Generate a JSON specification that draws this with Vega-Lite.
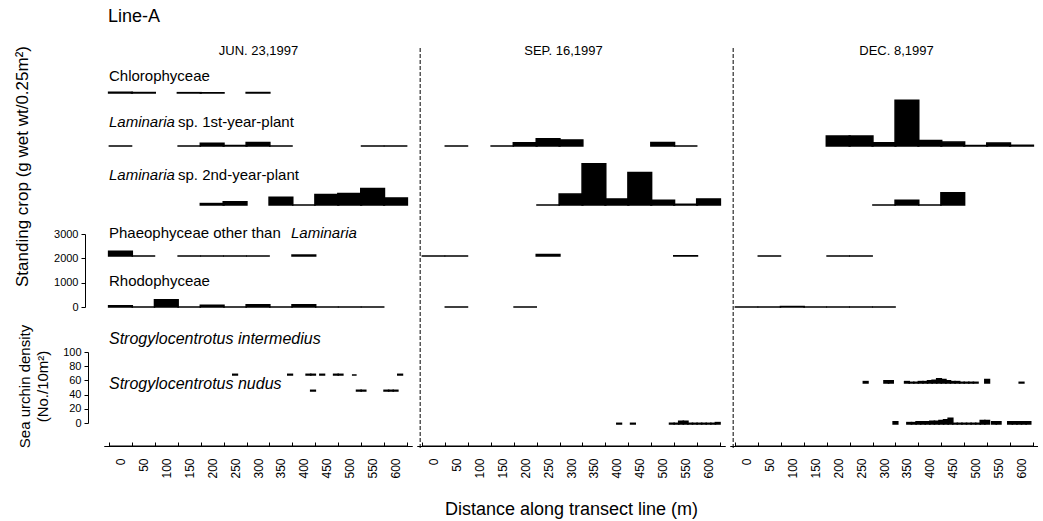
{
  "$schema": "https://vega.github.io/schema/vega-lite/v6.json",
  "padding": {"left": 12, "top": 8, "right": 0, "bottom": 0},
  "title": {"text": "Line-A", "anchor": "start", "fontSize": 18, "offset": 18, "dx": 95},
  "spacing": 5,
  "bounds": "flush",
  "config": {
    "font": "Liberation Sans",
    "view": {"stroke": null},
    "axis": {"grid": false, "domainColor": "black", "domainWidth": 1, "tickColor": "black", "labelColor": "black", "titleColor": "black", "titleFontWeight": "normal", "labelFont": "Liberation Sans", "titleFont": "Liberation Sans"},
    "title": {"fontWeight": "normal", "color": "black", "font": "Liberation Sans", "fontSize": 13},
    "text": {"font": "Liberation Sans", "color": "black", "fontSize": 15}
  },
  "datasets": {
    "algae": [
      {"date": "JUN", "taxon": "Chlorophyceae", "d": 0, "v": 30},
      {"date": "JUN", "taxon": "Chlorophyceae", "d": 50, "v": 20},
      {"date": "JUN", "taxon": "Chlorophyceae", "d": 150, "v": 15},
      {"date": "JUN", "taxon": "Chlorophyceae", "d": 200, "v": 10},
      {"date": "JUN", "taxon": "Chlorophyceae", "d": 300, "v": 20},
      {"date": "JUN", "taxon": "Laminaria 1st", "d": 0, "v": 0},
      {"date": "JUN", "taxon": "Laminaria 1st", "d": 150, "v": 0},
      {"date": "JUN", "taxon": "Laminaria 1st", "d": 200, "v": 110},
      {"date": "JUN", "taxon": "Laminaria 1st", "d": 250, "v": 20},
      {"date": "JUN", "taxon": "Laminaria 1st", "d": 300, "v": 140},
      {"date": "JUN", "taxon": "Laminaria 1st", "d": 350, "v": 0},
      {"date": "JUN", "taxon": "Laminaria 1st", "d": 550, "v": 0},
      {"date": "JUN", "taxon": "Laminaria 1st", "d": 600, "v": 0},
      {"date": "JUN", "taxon": "Laminaria 2nd", "d": 200, "v": 60},
      {"date": "JUN", "taxon": "Laminaria 2nd", "d": 250, "v": 130},
      {"date": "JUN", "taxon": "Laminaria 2nd", "d": 350, "v": 320},
      {"date": "JUN", "taxon": "Laminaria 2nd", "d": 400, "v": 0},
      {"date": "JUN", "taxon": "Laminaria 2nd", "d": 450, "v": 430},
      {"date": "JUN", "taxon": "Laminaria 2nd", "d": 500, "v": 470},
      {"date": "JUN", "taxon": "Laminaria 2nd", "d": 550, "v": 680},
      {"date": "JUN", "taxon": "Laminaria 2nd", "d": 600, "v": 290},
      {"date": "JUN", "taxon": "Phaeophyceae", "d": 0, "v": 200},
      {"date": "JUN", "taxon": "Phaeophyceae", "d": 50, "v": 0},
      {"date": "JUN", "taxon": "Phaeophyceae", "d": 150, "v": 0},
      {"date": "JUN", "taxon": "Phaeophyceae", "d": 200, "v": 0},
      {"date": "JUN", "taxon": "Phaeophyceae", "d": 250, "v": 0},
      {"date": "JUN", "taxon": "Phaeophyceae", "d": 300, "v": 0},
      {"date": "JUN", "taxon": "Phaeophyceae", "d": 400, "v": 40},
      {"date": "JUN", "taxon": "Rhodophyceae", "d": 0, "v": 50},
      {"date": "JUN", "taxon": "Rhodophyceae", "d": 50, "v": 0},
      {"date": "JUN", "taxon": "Rhodophyceae", "d": 100, "v": 300},
      {"date": "JUN", "taxon": "Rhodophyceae", "d": 150, "v": 0},
      {"date": "JUN", "taxon": "Rhodophyceae", "d": 200, "v": 70},
      {"date": "JUN", "taxon": "Rhodophyceae", "d": 250, "v": 0},
      {"date": "JUN", "taxon": "Rhodophyceae", "d": 300, "v": 90},
      {"date": "JUN", "taxon": "Rhodophyceae", "d": 350, "v": 0},
      {"date": "JUN", "taxon": "Rhodophyceae", "d": 400, "v": 90},
      {"date": "JUN", "taxon": "Rhodophyceae", "d": 450, "v": 0},
      {"date": "JUN", "taxon": "Rhodophyceae", "d": 500, "v": 0},
      {"date": "JUN", "taxon": "Rhodophyceae", "d": 550, "v": 0},
      {"date": "SEP", "taxon": "Laminaria 1st", "d": 50, "v": 0},
      {"date": "SEP", "taxon": "Laminaria 1st", "d": 150, "v": 0},
      {"date": "SEP", "taxon": "Laminaria 1st", "d": 200, "v": 130},
      {"date": "SEP", "taxon": "Laminaria 1st", "d": 250, "v": 300},
      {"date": "SEP", "taxon": "Laminaria 1st", "d": 300, "v": 250},
      {"date": "SEP", "taxon": "Laminaria 1st", "d": 500, "v": 140},
      {"date": "SEP", "taxon": "Laminaria 1st", "d": 550, "v": 0},
      {"date": "SEP", "taxon": "Laminaria 2nd", "d": 250, "v": 0},
      {"date": "SEP", "taxon": "Laminaria 2nd", "d": 300, "v": 450},
      {"date": "SEP", "taxon": "Laminaria 2nd", "d": 350, "v": 1700},
      {"date": "SEP", "taxon": "Laminaria 2nd", "d": 400, "v": 250},
      {"date": "SEP", "taxon": "Laminaria 2nd", "d": 450, "v": 1340},
      {"date": "SEP", "taxon": "Laminaria 2nd", "d": 500, "v": 200},
      {"date": "SEP", "taxon": "Laminaria 2nd", "d": 550, "v": 30},
      {"date": "SEP", "taxon": "Laminaria 2nd", "d": 600, "v": 250},
      {"date": "SEP", "taxon": "Phaeophyceae", "d": 0, "v": 0},
      {"date": "SEP", "taxon": "Phaeophyceae", "d": 50, "v": 0},
      {"date": "SEP", "taxon": "Phaeophyceae", "d": 250, "v": 60},
      {"date": "SEP", "taxon": "Phaeophyceae", "d": 550, "v": 10},
      {"date": "SEP", "taxon": "Rhodophyceae", "d": 50, "v": 0},
      {"date": "SEP", "taxon": "Rhodophyceae", "d": 200, "v": 0},
      {"date": "DEC", "taxon": "Laminaria 1st", "d": 200, "v": 410},
      {"date": "DEC", "taxon": "Laminaria 1st", "d": 250, "v": 410},
      {"date": "DEC", "taxon": "Laminaria 1st", "d": 300, "v": 135},
      {"date": "DEC", "taxon": "Laminaria 1st", "d": 350, "v": 1880},
      {"date": "DEC", "taxon": "Laminaria 1st", "d": 400, "v": 230},
      {"date": "DEC", "taxon": "Laminaria 1st", "d": 450, "v": 160},
      {"date": "DEC", "taxon": "Laminaria 1st", "d": 500, "v": 20},
      {"date": "DEC", "taxon": "Laminaria 1st", "d": 550, "v": 120},
      {"date": "DEC", "taxon": "Laminaria 1st", "d": 600, "v": 30},
      {"date": "DEC", "taxon": "Laminaria 2nd", "d": 300, "v": 0},
      {"date": "DEC", "taxon": "Laminaria 2nd", "d": 350, "v": 200},
      {"date": "DEC", "taxon": "Laminaria 2nd", "d": 400, "v": 0},
      {"date": "DEC", "taxon": "Laminaria 2nd", "d": 450, "v": 500},
      {"date": "DEC", "taxon": "Phaeophyceae", "d": 50, "v": 0},
      {"date": "DEC", "taxon": "Phaeophyceae", "d": 200, "v": 0},
      {"date": "DEC", "taxon": "Phaeophyceae", "d": 250, "v": 0},
      {"date": "DEC", "taxon": "Rhodophyceae", "d": 0, "v": 0},
      {"date": "DEC", "taxon": "Rhodophyceae", "d": 50, "v": 0},
      {"date": "DEC", "taxon": "Rhodophyceae", "d": 100, "v": 20},
      {"date": "DEC", "taxon": "Rhodophyceae", "d": 150, "v": 0},
      {"date": "DEC", "taxon": "Rhodophyceae", "d": 200, "v": 0},
      {"date": "DEC", "taxon": "Rhodophyceae", "d": 250, "v": 0},
      {"date": "DEC", "taxon": "Rhodophyceae", "d": 300, "v": 0}
    ],
    "urchin": [
      {"date": "JUN", "taxon": "S. intermedius", "d": 250, "v": 1},
      {"date": "JUN", "taxon": "S. intermedius", "d": 370, "v": 1},
      {"date": "JUN", "taxon": "S. intermedius", "d": 410, "v": 1},
      {"date": "JUN", "taxon": "S. intermedius", "d": 420, "v": 1},
      {"date": "JUN", "taxon": "S. intermedius", "d": 440, "v": 1},
      {"date": "JUN", "taxon": "S. intermedius", "d": 470, "v": 1},
      {"date": "JUN", "taxon": "S. intermedius", "d": 480, "v": 1},
      {"date": "JUN", "taxon": "S. intermedius", "d": 510, "v": 0},
      {"date": "JUN", "taxon": "S. intermedius", "d": 610, "v": 1},
      {"date": "JUN", "taxon": "S. nudus", "d": 420, "v": 1},
      {"date": "JUN", "taxon": "S. nudus", "d": 520, "v": 1},
      {"date": "JUN", "taxon": "S. nudus", "d": 530, "v": 1},
      {"date": "JUN", "taxon": "S. nudus", "d": 580, "v": 1},
      {"date": "JUN", "taxon": "S. nudus", "d": 590, "v": 1},
      {"date": "JUN", "taxon": "S. nudus", "d": 600, "v": 1},
      {"date": "SEP", "taxon": "S. nudus", "d": 405, "v": 1},
      {"date": "SEP", "taxon": "S. nudus", "d": 435, "v": 1},
      {"date": "SEP", "taxon": "S. nudus", "d": 520, "v": 1},
      {"date": "SEP", "taxon": "S. nudus", "d": 530, "v": 1},
      {"date": "SEP", "taxon": "S. nudus", "d": 540, "v": 4},
      {"date": "SEP", "taxon": "S. nudus", "d": 550, "v": 4},
      {"date": "SEP", "taxon": "S. nudus", "d": 560, "v": 1},
      {"date": "SEP", "taxon": "S. nudus", "d": 570, "v": 1},
      {"date": "SEP", "taxon": "S. nudus", "d": 580, "v": 1},
      {"date": "SEP", "taxon": "S. nudus", "d": 590, "v": 1},
      {"date": "SEP", "taxon": "S. nudus", "d": 600, "v": 1},
      {"date": "SEP", "taxon": "S. nudus", "d": 610, "v": 1},
      {"date": "SEP", "taxon": "S. nudus", "d": 620, "v": 2},
      {"date": "DEC", "taxon": "S. intermedius", "d": 260, "v": 2},
      {"date": "DEC", "taxon": "S. intermedius", "d": 305, "v": 3},
      {"date": "DEC", "taxon": "S. intermedius", "d": 315, "v": 3},
      {"date": "DEC", "taxon": "S. intermedius", "d": 350, "v": 2},
      {"date": "DEC", "taxon": "S. intermedius", "d": 360, "v": 1},
      {"date": "DEC", "taxon": "S. intermedius", "d": 370, "v": 1},
      {"date": "DEC", "taxon": "S. intermedius", "d": 380, "v": 2},
      {"date": "DEC", "taxon": "S. intermedius", "d": 390, "v": 2},
      {"date": "DEC", "taxon": "S. intermedius", "d": 400, "v": 3},
      {"date": "DEC", "taxon": "S. intermedius", "d": 410, "v": 4},
      {"date": "DEC", "taxon": "S. intermedius", "d": 420, "v": 6},
      {"date": "DEC", "taxon": "S. intermedius", "d": 430, "v": 5},
      {"date": "DEC", "taxon": "S. intermedius", "d": 440, "v": 3},
      {"date": "DEC", "taxon": "S. intermedius", "d": 450, "v": 2},
      {"date": "DEC", "taxon": "S. intermedius", "d": 460, "v": 2},
      {"date": "DEC", "taxon": "S. intermedius", "d": 470, "v": 1},
      {"date": "DEC", "taxon": "S. intermedius", "d": 480, "v": 1},
      {"date": "DEC", "taxon": "S. intermedius", "d": 490, "v": 1},
      {"date": "DEC", "taxon": "S. intermedius", "d": 500, "v": 1},
      {"date": "DEC", "taxon": "S. intermedius", "d": 525, "v": 5},
      {"date": "DEC", "taxon": "S. intermedius", "d": 600, "v": 1},
      {"date": "DEC", "taxon": "S. nudus", "d": 325, "v": 3},
      {"date": "DEC", "taxon": "S. nudus", "d": 355, "v": 2},
      {"date": "DEC", "taxon": "S. nudus", "d": 365, "v": 2},
      {"date": "DEC", "taxon": "S. nudus", "d": 375, "v": 3},
      {"date": "DEC", "taxon": "S. nudus", "d": 385, "v": 3},
      {"date": "DEC", "taxon": "S. nudus", "d": 395, "v": 3},
      {"date": "DEC", "taxon": "S. nudus", "d": 405, "v": 4},
      {"date": "DEC", "taxon": "S. nudus", "d": 415, "v": 4},
      {"date": "DEC", "taxon": "S. nudus", "d": 425, "v": 5},
      {"date": "DEC", "taxon": "S. nudus", "d": 435, "v": 6},
      {"date": "DEC", "taxon": "S. nudus", "d": 445, "v": 8},
      {"date": "DEC", "taxon": "S. nudus", "d": 455, "v": 1},
      {"date": "DEC", "taxon": "S. nudus", "d": 465, "v": 1},
      {"date": "DEC", "taxon": "S. nudus", "d": 475, "v": 1},
      {"date": "DEC", "taxon": "S. nudus", "d": 485, "v": 1},
      {"date": "DEC", "taxon": "S. nudus", "d": 495, "v": 1},
      {"date": "DEC", "taxon": "S. nudus", "d": 505, "v": 1},
      {"date": "DEC", "taxon": "S. nudus", "d": 515, "v": 5},
      {"date": "DEC", "taxon": "S. nudus", "d": 525, "v": 5},
      {"date": "DEC", "taxon": "S. nudus", "d": 540, "v": 3},
      {"date": "DEC", "taxon": "S. nudus", "d": 550, "v": 3},
      {"date": "DEC", "taxon": "S. nudus", "d": 575, "v": 3},
      {"date": "DEC", "taxon": "S. nudus", "d": 585, "v": 3},
      {"date": "DEC", "taxon": "S. nudus", "d": 595, "v": 3},
      {"date": "DEC", "taxon": "S. nudus", "d": 605, "v": 3},
      {"date": "DEC", "taxon": "S. nudus", "d": 615, "v": 3}
    ]
  },
  "hconcat": [
    {
      "width": 308, "height": 383,
      "resolve": {"scale": {"y": "independent"}, "axis": {"x": "independent"}},
      "layer": [
        {"layer": [
          {"data": {"name": "algae"}, "transform": [{"filter": "datum.date === 'JUN' && datum.taxon === 'Chlorophyceae'"}],
           "mark": {"type": "bar", "orient": "vertical", "width": 23.7, "color": "black", "stroke": "black", "strokeWidth": 1.5},
           "encoding": {"x": {"field": "d", "type": "quantitative", "scale": {"domain": [-25, 625], "nice": false, "zero": false}, "axis": null},
                        "y": {"field": "v", "type": "quantitative", "scale": {"domain": [0, 3000], "range": [30, -43], "nice": false, "zero": false}, "axis": null},
                        "y2": {"datum": 0}}},
          {"data": {"values": [{"label": "Chlorophyceae"}]},
           "mark": {"type": "text", "align": "left", "baseline": "middle", "dy": -17},
           "encoding": {"x": {"datum": -25, "type": "quantitative", "axis": null}, "y": {"datum": 0, "type": "quantitative", "axis": null}, "text": {"field": "label"}}}
        ]},
        {"layer": [
          {"data": {"name": "algae"}, "transform": [{"filter": "datum.date === 'JUN' && datum.taxon === 'Laminaria 1st'"}],
           "mark": {"type": "bar", "orient": "vertical", "width": 23.7, "color": "black", "stroke": "black", "strokeWidth": 1.5},
           "encoding": {"x": {"field": "d", "type": "quantitative", "scale": {"domain": [-25, 625], "nice": false, "zero": false}, "axis": null},
                        "y": {"field": "v", "type": "quantitative", "scale": {"domain": [0, 3000], "range": [83, 10], "nice": false, "zero": false}, "axis": null},
                        "y2": {"datum": 0}}},
          {"data": {"values": [{"label": "Laminaria"}]},
           "mark": {"type": "text", "align": "left", "baseline": "middle", "dy": -24, "fontStyle": "italic"},
           "encoding": {"x": {"datum": -25, "type": "quantitative", "axis": null}, "y": {"datum": 0, "type": "quantitative", "axis": null}, "text": {"field": "label"}}},
          {"data": {"values": [{"label": "sp. 1st-year-plant"}]},
           "mark": {"type": "text", "align": "left", "baseline": "middle", "dy": -24, "dx": 69},
           "encoding": {"x": {"datum": -25, "type": "quantitative", "axis": null}, "y": {"datum": 0, "type": "quantitative", "axis": null}, "text": {"field": "label"}}}
        ]},
        {"layer": [
          {"data": {"name": "algae"}, "transform": [{"filter": "datum.date === 'JUN' && datum.taxon === 'Laminaria 2nd'"}],
           "mark": {"type": "bar", "orient": "vertical", "width": 23.7, "color": "black", "stroke": "black", "strokeWidth": 1.5},
           "encoding": {"x": {"field": "d", "type": "quantitative", "scale": {"domain": [-25, 625], "nice": false, "zero": false}, "axis": null},
                        "y": {"field": "v", "type": "quantitative", "scale": {"domain": [0, 3000], "range": [142, 69], "nice": false, "zero": false}, "axis": null},
                        "y2": {"datum": 0}}},
          {"data": {"values": [{"label": "Laminaria"}]},
           "mark": {"type": "text", "align": "left", "baseline": "middle", "dy": -30, "fontStyle": "italic"},
           "encoding": {"x": {"datum": -25, "type": "quantitative", "axis": null}, "y": {"datum": 0, "type": "quantitative", "axis": null}, "text": {"field": "label"}}},
          {"data": {"values": [{"label": "sp. 2nd-year-plant"}]},
           "mark": {"type": "text", "align": "left", "baseline": "middle", "dy": -30, "dx": 69},
           "encoding": {"x": {"datum": -25, "type": "quantitative", "axis": null}, "y": {"datum": 0, "type": "quantitative", "axis": null}, "text": {"field": "label"}}}
        ]},
        {"layer": [
          {"data": {"name": "algae"}, "transform": [{"filter": "datum.date === 'JUN' && datum.taxon === 'Phaeophyceae'"}],
           "mark": {"type": "bar", "orient": "vertical", "width": 23.7, "color": "black", "stroke": "black", "strokeWidth": 1.5},
           "encoding": {"x": {"field": "d", "type": "quantitative", "scale": {"domain": [-25, 625], "nice": false, "zero": false}, "axis": null},
                        "y": {"field": "v", "type": "quantitative", "scale": {"domain": [0, 3000], "range": [193, 120], "nice": false, "zero": false}, "axis": null},
                        "y2": {"datum": 0}}},
          {"data": {"values": [{"label": "Phaeophyceae other than"}]},
           "mark": {"type": "text", "align": "left", "baseline": "middle", "dy": -23},
           "encoding": {"x": {"datum": -25, "type": "quantitative", "axis": null}, "y": {"datum": 0, "type": "quantitative", "axis": null}, "text": {"field": "label"}}},
          {"data": {"values": [{"label": "Laminaria"}]},
           "mark": {"type": "text", "align": "left", "baseline": "middle", "dy": -23, "dx": 182, "fontStyle": "italic"},
           "encoding": {"x": {"datum": -25, "type": "quantitative", "axis": null}, "y": {"datum": 0, "type": "quantitative", "axis": null}, "text": {"field": "label"}}}
        ]},
        {"layer": [
          {"data": {"name": "algae"}, "transform": [{"filter": "datum.date === 'JUN' && datum.taxon === 'Rhodophyceae'"}],
           "mark": {"type": "bar", "orient": "vertical", "width": 23.7, "color": "black", "stroke": "black", "strokeWidth": 1.5},
           "encoding": {"x": {"field": "d", "type": "quantitative", "scale": {"domain": [-25, 625], "nice": false, "zero": false}, "axis": null},
                        "y": {"field": "v", "type": "quantitative", "scale": {"domain": [0, 3000], "range": [244, 171], "nice": false, "zero": false}, "axis": null},
                        "y2": {"datum": 0}}},
          {"data": {"values": [{"label": "Rhodophyceae"}]},
           "mark": {"type": "text", "align": "left", "baseline": "middle", "dy": -26},
           "encoding": {"x": {"datum": -25, "type": "quantitative", "axis": null}, "y": {"datum": 0, "type": "quantitative", "axis": null}, "text": {"field": "label"}}}
        ]},
        {"layer": [
          {"data": {"name": "urchin"}, "transform": [{"filter": "datum.date === 'JUN' && datum.taxon === 'S. intermedius'"}],
           "mark": {"type": "bar", "orient": "vertical", "width": 4.7, "color": "black", "stroke": "black", "strokeWidth": 1.5},
           "encoding": {"x": {"field": "d", "type": "quantitative", "scale": {"domain": [-25, 625], "nice": false, "zero": false}, "axis": null},
                        "y": {"field": "v", "type": "quantitative", "scale": {"domain": [0, 100], "range": [312, 241], "nice": false, "zero": false}, "axis": null},
                        "y2": {"datum": 0}}},
          {"data": {"values": [{"label": "Strogylocentrotus intermedius"}]},
           "mark": {"type": "text", "align": "left", "baseline": "middle", "dy": -36, "fontStyle": "italic", "fontSize": 16},
           "encoding": {"x": {"datum": -25, "type": "quantitative", "axis": null}, "y": {"datum": 0, "type": "quantitative", "axis": null}, "text": {"field": "label"}}}
        ]},
        {"layer": [
          {"data": {"name": "urchin"}, "transform": [{"filter": "datum.date === 'JUN' && datum.taxon === 'S. nudus'"}],
           "mark": {"type": "bar", "orient": "vertical", "width": 4.7, "color": "black", "stroke": "black", "strokeWidth": 1.5},
           "encoding": {"x": {"field": "d", "type": "quantitative", "scale": {"domain": [-25, 625], "nice": false, "zero": false}, "axis": null},
                        "y": {"field": "v", "type": "quantitative", "scale": {"domain": [0, 100], "range": [328, 257], "nice": false, "zero": false}, "axis": null},
                        "y2": {"datum": 0}}},
          {"data": {"values": [{"label": "Strogylocentrotus nudus"}]},
           "mark": {"type": "text", "align": "left", "baseline": "middle", "dy": -7, "fontStyle": "italic", "fontSize": 16},
           "encoding": {"x": {"datum": -25, "type": "quantitative", "axis": null}, "y": {"datum": 0, "type": "quantitative", "axis": null}, "text": {"field": "label"}}}
        ]},
        {"data": {"values": [{"v": 0}, {"v": 3000}]},
         "mark": {"type": "point", "opacity": 0},
         "encoding": {"x": {"datum": 0, "type": "quantitative",
                            "axis": {"orient": "bottom", "values": [-25, 25, 75, 125, 175, 225, 275, 325, 375, 425, 475, 525, 575, 625], "labels": false, "ticks": true, "tickSize": -4, "domain": true, "title": null}},
                      "y": {"field": "v", "type": "quantitative", "scale": {"domain": [0, 3000], "range": [244, 171], "nice": false, "zero": false},
                            "axis": {"orient": "left", "values": [0, 1000, 2000, 3000], "format": "d", "offset": 19, "title": "Standing crop (g wet wt/0.25m²)", "titleFontSize": 17, "titleAngle": 270, "titleBaseline": "middle", "titleX": -63, "titleY": 103, "labelFontSize": 11, "tickSize": 4, "labelPadding": 3}}}},
        {"data": {"values": [{"v": 0}, {"v": 100}]},
         "mark": {"type": "point", "opacity": 0},
         "encoding": {"x": {"datum": 0, "type": "quantitative",
                            "axis": {"orient": "bottom", "values": [0, 50, 100, 150, 200, 250, 300, 350, 400, 450, 500, 550, 600], "labelAngle": 270, "ticks": false, "domain": true, "labelPadding": 12, "labelFontSize": 12, "title": null}},
                      "y": {"field": "v", "type": "quantitative", "scale": {"domain": [0, 100], "range": [360, 289], "nice": false, "zero": false},
                            "axis": {"orient": "left", "values": [0, 20, 40, 60, 80, 100], "offset": 16, "title": ["Sea urchin density", "(No./10m²)"], "titleFontSize": 15, "titleLineHeight": 18, "titleAngle": 270, "titleBaseline": "middle", "titleX": -64, "titleY": 323, "labelFontSize": 11, "tickSize": 4, "labelPadding": 3}}}},
        {"data": {"values": [{}]},
         "mark": {"type": "point", "opacity": 0},
         "encoding": {"x": {"datum": 0, "type": "quantitative",
                            "axis": {"orient": "top", "labels": false, "ticks": false, "domain": false, "title": "JUN. 23,1997", "titleFontSize": 13, "titlePadding": 6}}}},
        {"data": {"values": [{}]},
         "mark": {"type": "rule", "color": "black", "strokeWidth": 1},
         "encoding": {"x": {"datum": -25, "type": "quantitative", "axis": null}, "x2": {"datum": 625},
                      "y": {"datum": 0, "type": "quantitative", "scale": {"domain": [0, 1], "range": [383, 0], "nice": false, "zero": false}, "axis": null}}}
      ]
    },
    {
      "width": 308, "height": 383,
      "resolve": {"scale": {"y": "independent"}, "axis": {"x": "independent"}},
      "layer": [
        {"data": {"name": "algae"}, "transform": [{"filter": "datum.date === 'SEP' && datum.taxon === 'Laminaria 1st'"}],
         "mark": {"type": "bar", "orient": "vertical", "width": 23.7, "color": "black", "stroke": "black", "strokeWidth": 1.5},
         "encoding": {"x": {"field": "d", "type": "quantitative", "scale": {"domain": [-25, 625], "nice": false, "zero": false},
                            "axis": {"orient": "top", "labels": false, "ticks": false, "domain": false, "title": "SEP. 16,1997", "titleFontSize": 13, "titlePadding": 6, "titleX": 146}},
                      "y": {"field": "v", "type": "quantitative", "scale": {"domain": [0, 3000], "range": [83, 10], "nice": false, "zero": false}, "axis": null},
                      "y2": {"datum": 0}}},
        {"data": {"name": "algae"}, "transform": [{"filter": "datum.date === 'SEP' && datum.taxon === 'Laminaria 2nd'"}],
         "mark": {"type": "bar", "orient": "vertical", "width": 23.7, "color": "black", "stroke": "black", "strokeWidth": 1.5},
         "encoding": {"x": {"field": "d", "type": "quantitative", "scale": {"domain": [-25, 625], "nice": false, "zero": false}, "axis": null},
                      "y": {"field": "v", "type": "quantitative", "scale": {"domain": [0, 3000], "range": [142, 69], "nice": false, "zero": false}, "axis": null},
                      "y2": {"datum": 0}}},
        {"data": {"name": "algae"}, "transform": [{"filter": "datum.date === 'SEP' && datum.taxon === 'Phaeophyceae'"}],
         "mark": {"type": "bar", "orient": "vertical", "width": 23.7, "color": "black", "stroke": "black", "strokeWidth": 1.5},
         "encoding": {"x": {"field": "d", "type": "quantitative", "scale": {"domain": [-25, 625], "nice": false, "zero": false},
                            "axis": {"orient": "bottom", "values": [-25, 25, 75, 125, 175, 225, 275, 325, 375, 425, 475, 525, 575, 625], "labels": false, "ticks": true, "tickSize": -4, "domain": true, "title": null}},
                      "y": {"field": "v", "type": "quantitative", "scale": {"domain": [0, 3000], "range": [193, 120], "nice": false, "zero": false}, "axis": null},
                      "y2": {"datum": 0}}},
        {"data": {"name": "algae"}, "transform": [{"filter": "datum.date === 'SEP' && datum.taxon === 'Rhodophyceae'"}],
         "mark": {"type": "bar", "orient": "vertical", "width": 23.7, "color": "black", "stroke": "black", "strokeWidth": 1.5},
         "encoding": {"x": {"field": "d", "type": "quantitative", "scale": {"domain": [-25, 625], "nice": false, "zero": false},
                            "axis": {"orient": "bottom", "values": [0, 50, 100, 150, 200, 250, 300, 350, 400, 450, 500, 550, 600], "labelAngle": 270, "ticks": false, "domain": true, "labelPadding": 12, "labelFontSize": 12, "title": "Distance along transect line (m)", "titleFontSize": 18, "titlePadding": 22}},
                      "y": {"field": "v", "type": "quantitative", "scale": {"domain": [0, 3000], "range": [244, 171], "nice": false, "zero": false}, "axis": null},
                      "y2": {"datum": 0}}},
        {"data": {"name": "urchin"}, "transform": [{"filter": "datum.date === 'SEP' && datum.taxon === 'S. nudus'"}],
         "mark": {"type": "bar", "orient": "vertical", "width": 4.7, "color": "black", "stroke": "black", "strokeWidth": 1.5},
         "encoding": {"x": {"field": "d", "type": "quantitative", "scale": {"domain": [-25, 625], "nice": false, "zero": false}, "axis": null},
                      "y": {"field": "v", "type": "quantitative", "scale": {"domain": [0, 100], "range": [361, 290], "nice": false, "zero": false}, "axis": null},
                      "y2": {"datum": 0}}},
        {"data": {"values": [{}]},
         "mark": {"type": "rule", "strokeDash": [4, 2], "color": "black", "strokeWidth": 1},
         "encoding": {"x": {"datum": -29, "type": "quantitative", "axis": null},
                      "y": {"datum": 0, "type": "quantitative", "scale": {"domain": [0, 1], "range": [385, -16], "nice": false, "zero": false}, "axis": null},
                      "y2": {"datum": 1}}},
        {"data": {"values": [{}]},
         "mark": {"type": "rule", "color": "black", "strokeWidth": 1},
         "encoding": {"x": {"datum": -25, "type": "quantitative", "axis": null}, "x2": {"datum": 625},
                      "y": {"datum": 0, "type": "quantitative", "scale": {"domain": [0, 1], "range": [383, 0], "nice": false, "zero": false}, "axis": null}}}
      ]
    },
    {
      "width": 308, "height": 383,
      "resolve": {"scale": {"y": "independent"}, "axis": {"x": "independent"}},
      "layer": [
        {"data": {"name": "algae"}, "transform": [{"filter": "datum.date === 'DEC' && datum.taxon === 'Laminaria 1st'"}],
         "mark": {"type": "bar", "orient": "vertical", "width": 23.7, "color": "black", "stroke": "black", "strokeWidth": 1.5},
         "encoding": {"x": {"field": "d", "type": "quantitative", "scale": {"domain": [-25, 625], "nice": false, "zero": false},
                            "axis": {"orient": "top", "labels": false, "ticks": false, "domain": false, "title": "DEC. 8,1997", "titleFontSize": 13, "titlePadding": 6, "titleX": 166}},
                      "y": {"field": "v", "type": "quantitative", "scale": {"domain": [0, 3000], "range": [83, 10], "nice": false, "zero": false}, "axis": null},
                      "y2": {"datum": 0}}},
        {"data": {"name": "algae"}, "transform": [{"filter": "datum.date === 'DEC' && datum.taxon === 'Laminaria 2nd'"}],
         "mark": {"type": "bar", "orient": "vertical", "width": 23.7, "color": "black", "stroke": "black", "strokeWidth": 1.5},
         "encoding": {"x": {"field": "d", "type": "quantitative", "scale": {"domain": [-25, 625], "nice": false, "zero": false}, "axis": null},
                      "y": {"field": "v", "type": "quantitative", "scale": {"domain": [0, 3000], "range": [142, 69], "nice": false, "zero": false}, "axis": null},
                      "y2": {"datum": 0}}},
        {"data": {"name": "algae"}, "transform": [{"filter": "datum.date === 'DEC' && datum.taxon === 'Phaeophyceae'"}],
         "mark": {"type": "bar", "orient": "vertical", "width": 23.7, "color": "black", "stroke": "black", "strokeWidth": 1.5},
         "encoding": {"x": {"field": "d", "type": "quantitative", "scale": {"domain": [-25, 625], "nice": false, "zero": false},
                            "axis": {"orient": "bottom", "values": [-25, 25, 75, 125, 175, 225, 275, 325, 375, 425, 475, 525, 575, 625], "labels": false, "ticks": true, "tickSize": -4, "domain": true, "title": null}},
                      "y": {"field": "v", "type": "quantitative", "scale": {"domain": [0, 3000], "range": [193, 120], "nice": false, "zero": false}, "axis": null},
                      "y2": {"datum": 0}}},
        {"data": {"name": "algae"}, "transform": [{"filter": "datum.date === 'DEC' && datum.taxon === 'Rhodophyceae'"}],
         "mark": {"type": "bar", "orient": "vertical", "width": 23.7, "color": "black", "stroke": "black", "strokeWidth": 1.5},
         "encoding": {"x": {"field": "d", "type": "quantitative", "scale": {"domain": [-25, 625], "nice": false, "zero": false},
                            "axis": {"orient": "bottom", "values": [0, 50, 100, 150, 200, 250, 300, 350, 400, 450, 500, 550, 600], "labelAngle": 270, "ticks": false, "domain": true, "labelPadding": 12, "labelFontSize": 12, "title": null}},
                      "y": {"field": "v", "type": "quantitative", "scale": {"domain": [0, 3000], "range": [244, 171], "nice": false, "zero": false}, "axis": null},
                      "y2": {"datum": 0}}},
        {"data": {"name": "urchin"}, "transform": [{"filter": "datum.date === 'DEC' && datum.taxon === 'S. intermedius'"}],
         "mark": {"type": "bar", "orient": "vertical", "width": 4.7, "color": "black", "stroke": "black", "strokeWidth": 1.5},
         "encoding": {"x": {"field": "d", "type": "quantitative", "scale": {"domain": [-25, 625], "nice": false, "zero": false}, "axis": null},
                      "y": {"field": "v", "type": "quantitative", "scale": {"domain": [0, 100], "range": [320, 249], "nice": false, "zero": false}, "axis": null},
                      "y2": {"datum": 0}}},
        {"data": {"name": "urchin"}, "transform": [{"filter": "datum.date === 'DEC' && datum.taxon === 'S. nudus'"}],
         "mark": {"type": "bar", "orient": "vertical", "width": 4.7, "color": "black", "stroke": "black", "strokeWidth": 1.5},
         "encoding": {"x": {"field": "d", "type": "quantitative", "scale": {"domain": [-25, 625], "nice": false, "zero": false}, "axis": null},
                      "y": {"field": "v", "type": "quantitative", "scale": {"domain": [0, 100], "range": [361, 290], "nice": false, "zero": false}, "axis": null},
                      "y2": {"datum": 0}}},
        {"data": {"values": [{}]},
         "mark": {"type": "rule", "strokeDash": [4, 2], "color": "black", "strokeWidth": 1},
         "encoding": {"x": {"datum": -29, "type": "quantitative", "axis": null},
                      "y": {"datum": 0, "type": "quantitative", "scale": {"domain": [0, 1], "range": [385, -16], "nice": false, "zero": false}, "axis": null},
                      "y2": {"datum": 1}}},
        {"data": {"values": [{}]},
         "mark": {"type": "rule", "color": "black", "strokeWidth": 1},
         "encoding": {"x": {"datum": -25, "type": "quantitative", "axis": null}, "x2": {"datum": 625},
                      "y": {"datum": 0, "type": "quantitative", "scale": {"domain": [0, 1], "range": [383, 0], "nice": false, "zero": false}, "axis": null}}}
      ]
    }
  ]
}
